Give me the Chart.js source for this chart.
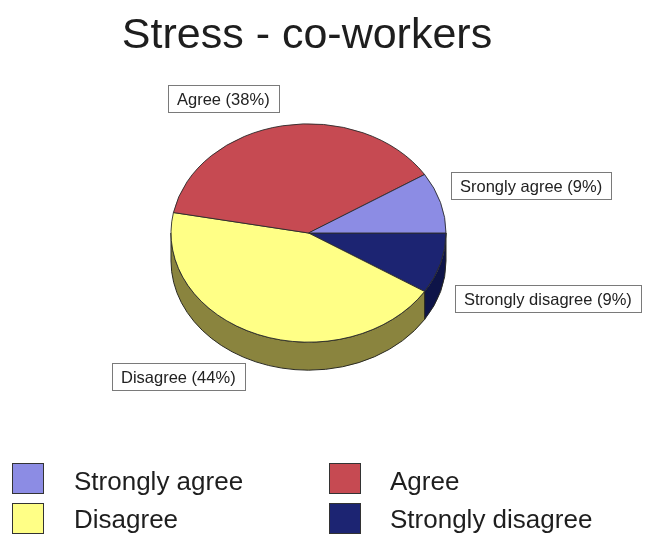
<!DOCTYPE html>
<html>
<head>
<meta charset="utf-8">
<title>Stress - co-workers</title>
<script src="https://cdn.jsdelivr.net/npm/chart.js@4.4.0/dist/chart.umd.min.js"></script>
<style>
  html, body { margin: 0; padding: 0; background: #fff; }
  #wrap { width: 645px; height: 536px; position: relative; }
</style>
</head>
<body>
<div id="wrap"><canvas id="pie" width="645" height="536"></canvas></div>
<script>
// answers, in legend order
const categories = ["Strongly agree", "Agree", "Disagree", "Strongly disagree"];
const calloutNames = ["Srongly agree", "Agree", "Disagree", "Strongly disagree"];
const percents = [9, 38, 44, 9];
const topColors = ["#8c8ce4", "#c64a52", "#ffff86", "#1c2472"];
const sideColors = ["#5c5ca0", "#7e2c32", "#8a843e", "#0e1448"];

const chartTitle = "Stress - co-workers";
const FONT = "'Liberation Sans', Arial, sans-serif";

// pie is drawn as a circle then flattened into a tilted disc
const TILT = 0.794;
const DEPTH = 28;

// slices go clockwise from 3 o'clock, so feed them in reverse
const order = [3, 2, 1, 0];

// where each callout box sits (left, top), by legend index
const calloutPos = [[451, 172], [168, 85], [112, 363], [455, 285]];

function ellipsePath(ctx, cx, cy, r, a, b, ccw) {
  ctx.ellipse(cx, cy, r, r * TILT, 0, a, b, !!ccw);
}

const tiltPlugin = {
  id: "tilt",
  beforeDatasetsDraw(chart) {
    const ctx = chart.ctx;
    const meta = chart.getDatasetMeta(0);
    ctx.save();
    // front walls: only the part of each slice facing down (0..PI)
    meta.data.forEach((arc, i) => {
      const p = arc.getProps(["x", "y", "startAngle", "endAngle", "outerRadius"], true);
      let a = Math.max(p.startAngle, 0);
      let b = Math.min(p.endAngle, Math.PI);
      if (b <= a) return;
      ctx.beginPath();
      ellipsePath(ctx, p.x, p.y, p.outerRadius, a, b);
      ellipsePath(ctx, p.x, p.y + DEPTH, p.outerRadius, b, a, true);
      ctx.closePath();
      ctx.fillStyle = sideColors[order[i]];
      ctx.fill();
      ctx.strokeStyle = "#2a2a22";
      ctx.lineWidth = 1;
      ctx.stroke();
    });
    ctx.restore();

    // flatten the top face
    const cx = meta.data[0].x, cy = meta.data[0].y;
    ctx.save();
    ctx.translate(cx, cy);
    ctx.scale(1, TILT);
    ctx.translate(-cx, -cy);
  },
  afterDatasetsDraw(chart) {
    chart.ctx.restore();
  },
  afterDraw(chart) {
    const ctx = chart.ctx;
    ctx.save();

    // title
    ctx.fillStyle = "#1e1e1e";
    ctx.font = "43px " + FONT;
    ctx.textAlign = "center";
    ctx.textBaseline = "alphabetic";
    ctx.fillText(chartTitle, 307, 48);

    // callout boxes
    ctx.font = "16.5px " + FONT;
    ctx.textAlign = "left";
    ctx.textBaseline = "middle";
    categories.forEach((c, i) => {
      const txt = calloutNames[i] + " (" + percents[i] + "%)";
      const w = Math.round(ctx.measureText(txt).width + 18);
      const [x, y] = calloutPos[i];
      ctx.fillStyle = "#fff";
      ctx.fillRect(x + 0.5, y + 0.5, w, 27);
      ctx.strokeStyle = "#7a7a7a";
      ctx.lineWidth = 1;
      ctx.strokeRect(x + 0.5, y + 0.5, w, 27);
      ctx.fillStyle = "#222";
      ctx.fillText(txt, x + 9, y + 15);
    });

    // legend, two columns
    ctx.font = "26px " + FONT;
    ctx.textBaseline = "alphabetic";
    categories.forEach((c, i) => {
      const col = i % 2, row = Math.floor(i / 2);
      const sx = col ? 329 : 12;
      const sy = row ? 503 : 463;
      ctx.fillStyle = topColors[i];
      ctx.fillRect(sx + 0.5, sy + 0.5, 31, 30);
      ctx.strokeStyle = "#333";
      ctx.strokeRect(sx + 0.5, sy + 0.5, 31, 30);
      ctx.fillStyle = "#1e1e1e";
      ctx.fillText(c, col ? 390 : 74, row ? 528 : 490);
    });
    ctx.restore();
  }
};

new Chart(document.getElementById("pie"), {
  type: "pie",
  data: {
    labels: order.map(i => categories[i]),
    datasets: [{
      data: order.map(i => percents[i]),
      backgroundColor: order.map(i => topColors[i]),
      borderColor: "#2a2a2a",
      borderWidth: 1
    }]
  },
  options: {
    responsive: false,
    animation: false,
    rotation: 90,
    layout: { padding: { left: 170, right: 198, top: 95, bottom: 165 } },
    plugins: {
      legend: { display: false },
      tooltip: { enabled: false },
      title: { display: false }
    }
  },
  plugins: [tiltPlugin]
});
</script>
</body>
</html>
